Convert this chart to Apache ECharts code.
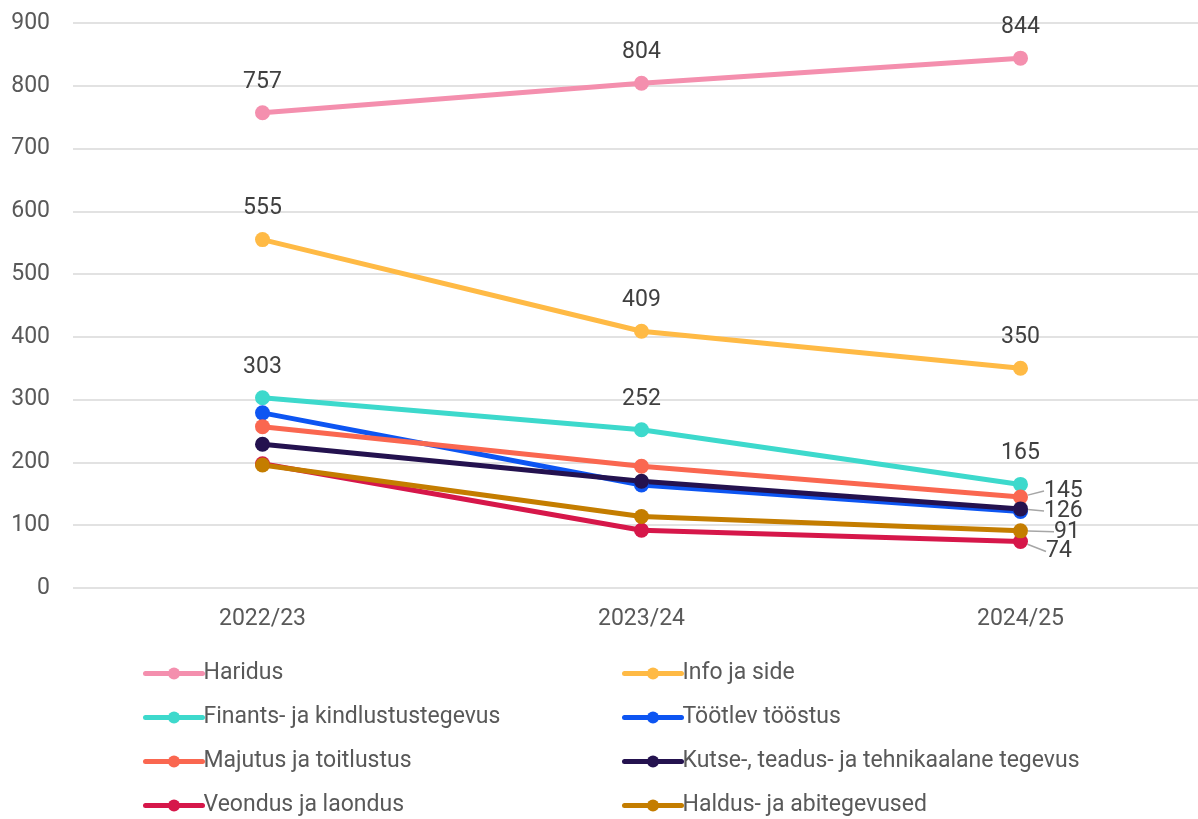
<!DOCTYPE html>
<html lang="et">

<head>
    <meta charset="UTF-8">
    <title>Tegevusalad</title>
    <script src="https://cdn.jsdelivr.net/npm/echarts@6/dist/echarts.min.js"></script>
    <style>
        html, body { margin: 0; padding: 0; background: #fff; }
        #main { width: 1198px; height: 819px; }
    </style>
</head>

<body>
    <div id="main"></div>
    <script>
        // andmed
        var years = ['2022/23', '2023/24', '2024/25'];
        var haridus = [757, 804, 844];
        var infoSide = [555, 409, 350];
        var finants = [303, 252, 165];
        var tootlev = [279, 164, 122];
        var majutus = [257, 194, 145];
        var kutse = [229, 170, 126];
        var veondus = [198, 92, 74];
        var haldus = [196, 114, 91];
        var yTicks = [0, 100, 200, 300, 400, 500, 600, 700, 800, 900];

        var font = 'Roboto, "Noto Sans", sans-serif';
        var fs = 23;
        var labelColor = '#404040';

        // mis punktidel silt näha ja kuhu see nihutada (dx, dy)
        function makeSeries(name, data, color, showAll, lastShift) {
            return {
                name: name,
                type: 'line',
                data: data.map(function (v, i) {
                    var show = showAll || (lastShift && i === data.length - 1);
                    return { value: v, label: { show: !!show } };
                }),
                symbol: 'circle',
                symbolSize: 15,
                lineStyle: { width: 5, color: color, cap: 'round' },
                itemStyle: { color: color },
                label: {
                    position: showAll ? 'top' : 'right',
                    distance: showAll ? 12 : 6,
                    fontSize: fs,
                    fontFamily: font,
                    color: labelColor
                },
                labelLine: { show: !showAll, lineStyle: { color: '#a6a6a6', width: 1.5 } },
                labelLayout: lastShift ? function (p) {
                    return { dx: lastShift[0], dy: lastShift[1] };
                } : null,
                emphasis: { disabled: true },
                animation: false
            };
        }

        var myChart = echarts.init(document.getElementById('main'));

        var legendCommon = {
            orient: 'vertical',
            top: 662,
            height: 200,
            padding: 0,
            itemWidth: 57,
            itemHeight: 15,
            itemGap: 21,
            lineStyle: { width: 5, cap: 'round' },
            textStyle: { fontSize: fs, fontFamily: font, color: '#595959', padding: [0, 0, 0, -4] }
        };

        var option = {
            grid: { left: 73, width: 1137, top: 23, bottom: 231, outerBoundsMode: 'none' },
            legend: [
                Object.assign({ left: 143, data: ['Haridus', 'Finants- ja kindlustustegevus', 'Majutus ja toitlustus', 'Veondus ja laondus'] }, legendCommon),
                Object.assign({ left: 622, data: ['Info ja side', 'Töötlev tööstus', 'Kutse-, teadus- ja tehnikaalane tegevus', 'Haldus- ja abitegevused'] }, legendCommon)
            ],
            xAxis: {
                type: 'category',
                data: years,
                boundaryGap: true,
                axisLine: { show: false },
                axisTick: { show: false },
                axisLabel: { fontSize: fs, fontFamily: font, color: '#595959', margin: 20 }
            },
            yAxis: {
                type: 'value',
                min: yTicks[0],
                max: yTicks[yTicks.length - 1],
                interval: 100,
                axisLine: { show: false },
                axisTick: { show: false },
                axisLabel: { fontSize: fs, fontFamily: font, color: '#595959', margin: 23 },
                splitLine: { lineStyle: { color: '#d9d9d9', width: 1.5 } }
            },
            series: [
                makeSeries('Haridus', haridus, '#F48FAE', true),
                makeSeries('Info ja side', infoSide, '#FFBA45', true),
                makeSeries('Finants- ja kindlustustegevus', finants, '#3DD9CC', true),
                makeSeries('Töötlev tööstus', tootlev, '#0D55F2', false),
                makeSeries('Majutus ja toitlustus', majutus, '#FA6750', false, [10, -6]),
                makeSeries('Kutse-, teadus- ja tehnikaalane tegevus', kutse, '#24124F', false, [10, 2]),
                makeSeries('Veondus ja laondus', veondus, '#D6174A', false, [12, 10]),
                makeSeries('Haldus- ja abitegevused', haldus, '#C47D00', false, [20, 1])
            ]
        };

        myChart.setOption(option);
    </script>
</body>

</html>
